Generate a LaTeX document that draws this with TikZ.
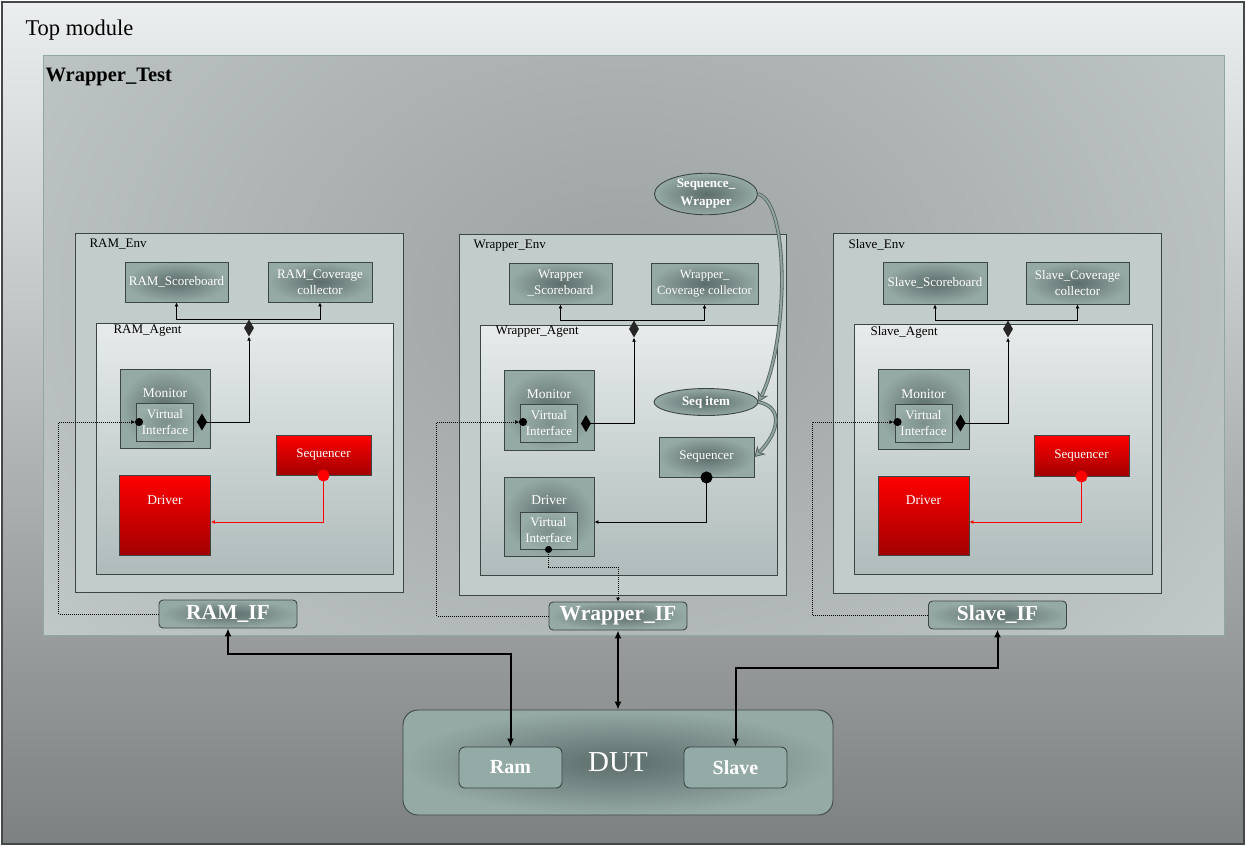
\documentclass[tikz,border=0pt]{standalone}
\usepackage{fontspec}
\setmainfont{Liberation Serif}
\usetikzlibrary{arrows.meta,shapes.geometric}
\definecolor{edge}{HTML}{3C4645}
\definecolor{frame}{HTML}{454848}
\definecolor{boxin}{HTML}{5C6D6B}
\definecolor{boxout}{HTML}{95A9A5}
\definecolor{vifin}{HTML}{7D908D}
\definecolor{vifout}{HTML}{98ACA8}
\definecolor{envc}{HTML}{C1CCCB}
\definecolor{agtop}{HTML}{E7EBEB}
\definecolor{agbot}{HTML}{AFBCBB}
\definecolor{bgtop}{HTML}{EAEEEE}
\definecolor{bgmid}{HTML}{BFC3C3}
\definecolor{bgbot}{HTML}{7E8181}
\definecolor{wtin}{HTML}{9CA1A1}
\definecolor{wtout}{HTML}{D8E0E0}
\definecolor{wtedge}{HTML}{8FA8A3}
\definecolor{modc}{HTML}{94AAA6}
\definecolor{hotbot}{HTML}{A20000}
\definecolor{curvd}{HTML}{56625F}
\definecolor{curvl}{HTML}{8FA3A0}

\begin{document}
\begin{tikzpicture}[x=1pt,y=-1pt,>=Latex,
 every node/.style={font=\fontsize{13}{16}\selectfont},
 blk/.style={draw=edge,line width=0.9pt,shading=radial,inner color=boxin,outer color=boxout,text=white,align=center,inner sep=1pt},
 hot/.style={draw=edge,line width=0.9pt,top color=red,bottom color=hotbot,minimum width=91pt},
 vif/.style={draw=edge,line width=0.9pt,shading=radial,inner color=vifin,outer color=vifout,text=white,align=center,minimum width=57pt,minimum height=38pt,inner sep=0pt},
 ifbox/.style={blk,rounded corners=4pt,minimum width=138pt,minimum height=28pt,font=\fontsize{21.5}{23}\selectfont\bfseries},
 oval/.style={blk,ellipse,font=\fontsize{13}{18}\selectfont\bfseries,inner sep=0pt},
 mod/.style={draw=edge,line width=0.9pt,fill=modc,rounded corners=6pt,text=white,minimum width=103pt,minimum height=41pt,font=\fontsize{20}{22}\selectfont\bfseries},
 dia/.style={diamond,fill=black!85,minimum width=10pt,minimum height=17pt,inner sep=0pt},
 lab/.style={anchor=west},
 wt/.style={text=white,font=\fontsize{13.5}{16}\selectfont},
 env/.style={draw=edge,line width=0.9pt,fill=envc},
 agent/.style={draw=edge,line width=0.9pt,top color=agtop,bottom color=agbot},
 link/.style={line width=1pt,arrows={-Latex[length=4pt,width=4pt]}},
 aggr/.style={line width=1pt,arrows={Diamond[length=10pt,width=17pt]-Latex[length=4pt,width=4pt]},shorten <=3pt},
 vlink/.style={densely dotted,line width=1pt,arrows={-{Latex[length=4pt,width=4pt] Circle[length=8pt]}},shorten >=-7pt},
 seqlink/.style={line width=1pt,arrows={Circle[length=12pt]-Latex[length=4pt,width=4pt]},shorten <=-6pt},
 bus/.style={line width=2pt,arrows={Latex[length=8pt,width=7pt]-Latex[length=8pt,width=7pt]}},
 curv/.style={draw=curvd,double=curvl,double distance=2pt,line width=0.8pt,arrows={-{Stealth[length=10pt,width=12pt,fill=curvl]}}}]
\useasboundingbox (0,0) rectangle (1246,846);

% frames
\shadedraw[top color=bgtop,middle color=bgmid,bottom color=bgbot,draw=frame,line width=2pt] (2,2) rectangle (1244,844);
\node[lab,font=\fontsize{22.5}{25}\selectfont] (top) at (22,30) {Top module};
\begin{scope}
\clip (43,55) rectangle (1224,635);
\shade[inner color=wtin,outer color=wtout] (620,300) ellipse [x radius=1200pt,y radius=900pt];
\end{scope}
\draw[draw=wtedge,line width=0.8pt] (43,55) rectangle (1224,635);
\node[lab,font=\fontsize{20.5}{23}\selectfont\bfseries] (wt) at (42,77) {Wrapper\_Test};

% RAM side
\draw[env] (75,233) rectangle (403,592);
\draw[agent] (96,323) rectangle (393,574);
\node[lab] (e1) at (86,244) {RAM\_Env};
\node[lab] (a1) at (110,331) {RAM\_Agent};
\node[blk,minimum width=103pt,minimum height=40pt] (s1) at (176.5,282) {RAM\_Scoreboard};
\node[blk,minimum width=104pt,minimum height=40pt] (c1) at (320,282) {RAM\_Coverage\\collector};
\node[blk,minimum width=90pt,minimum height=79pt] (m1) at (165,408.5) {};
\node[wt] (m1t) at (165,393) {Monitor};
\node[vif] (v1) at (165,422) {Virtual\\Interface};
\node[hot,minimum height=80pt] (r1) at (165,515) {};
\node[wt] (r1t) at (165,500) {Driver};
\node[hot,minimum width=95pt,minimum height=40pt,text=white] (q1) at (323.5,455) {Sequencer};
\node[dia] (d1) at (249,328) {};
\node[ifbox] (i1) at (228,614) {RAM\_IF};

% Wrapper side
\draw[env] (459,234) rectangle (786,595);
\draw[agent] (480,325) rectangle (777,575);
\node[lab] (e2) at (470,246) {Wrapper\_Env};
\node[lab] (a2) at (492,332) {Wrapper\_Agent};
\node[blk,minimum width=103pt,minimum height=41pt] (s2) at (560.5,283.5) {Wrapper\\\_Scoreboard};
\node[blk,minimum width=107pt,minimum height=41pt,font=\fontsize{12.5}{16}\selectfont] (c2) at (704.5,283.5) {Wrapper\_\\Coverage collector};
\node[blk,minimum width=90pt,minimum height=80pt] (m2) at (549,410) {};
\node[wt] (m2t) at (549,394) {Monitor};
\node[vif] (v2) at (549,423.5) {Virtual\\Interface};
\node[blk,minimum width=90pt,minimum height=79pt] (r2) at (549,516.5) {};
\node[wt] (r2t) at (549,500) {Driver};
\node[vif,minimum height=37pt] (w2) at (548.5,530.5) {Virtual\\Interface};
\node[blk,minimum width=95pt,minimum height=40pt] (q2) at (706.5,457) {Sequencer};
\node[dia] (d2) at (634,329) {};
\node[ifbox] (i2) at (618,616) {Wrapper\_IF};
\node[oval,minimum width=104pt,minimum height=27pt] (si) at (706,402) {Seq item};
\node[oval,minimum width=103pt,minimum height=38pt,align=center] (sw) at (706,194) {Sequence\_\\Wrapper};

% Slave side
\draw[env] (833,233) rectangle (1161,593);
\draw[agent] (854,324) rectangle (1152,574);
\node[lab] (e3) at (845,245) {Slave\_Env};
\node[lab] (a3) at (867,332) {Slave\_Agent};
\node[blk,minimum width=104pt,minimum height=42pt] (s3) at (935,283) {Slave\_Scoreboard};
\node[blk,minimum width=103pt,minimum height=42pt] (c3) at (1077.5,283) {Slave\_Coverage\\collector};
\node[blk,minimum width=91pt,minimum height=80pt] (m3) at (923.5,409) {};
\node[wt] (m3t) at (923.5,394) {Monitor};
\node[vif] (v3) at (923.5,423) {Virtual\\Interface};
\node[hot,minimum height=79pt] (r3) at (923.5,515.5) {};
\node[wt] (r3t) at (923.5,500) {Driver};
\node[hot,minimum width=95pt,minimum height=41pt,text=white] (q3) at (1081.5,455.5) {Sequencer};
\node[dia] (d3) at (1008,329) {};
\node[ifbox] (i3) at (997.5,615) {Slave\_IF};

% DUT
\node[blk,rounded corners=15pt,minimum width=430pt,minimum height=105pt,font=\fontsize{29}{31}\selectfont] (dut) at (618,762.5) {DUT};
\node[mod] (ram) at (510.5,767.5) {Ram};
\node[mod] (slv) at (735.5,767.5) {Slave};

% monitor to scoreboard / coverage
\draw[aggr] (v1.east) -| (d1.south);
\draw[link] (d1.north) -| (s1.south);
\draw[link] (d1.north) -| (c1.south);
\draw[aggr] (v2.east) -| (d2.south);
\draw[link] (d2.north) -| (s2.south);
\draw[link] (d2.north) -| (c2.south);
\draw[aggr] (v3.east) -| (d3.south);
\draw[link] (d3.north) -| (s3.south);
\draw[link] (d3.north) -| (c3.south);

% sequencer to driver
\draw[seqlink,red] (q1.south) |- ([yshift=-7pt]r1.east);
\draw[seqlink] (q2.south) |- ([yshift=-5.5pt]r2.east);
\draw[seqlink,red] (q3.south) |- ([yshift=-6.5pt]r3.east);

% interfaces
\draw[vlink] (i1.west) -- ++(-100,0) |- (v1.west);
\draw[vlink] (i2.west) -- ++(-112,0) |- ([yshift=1.5pt]v2.west);
\draw[vlink] (i3.west) -- ++(-116,0) |- ([yshift=1pt]v3.west);
\draw[densely dotted,line width=1pt,arrows={{Circle[length=7pt]}-Latex[length=4pt,width=4pt]},shorten <=-3.5pt] (w2.south) -- ++(0,18) -| (i2.north);

% sequences
\draw[curv] (sw.east) .. controls +(32,8) and +(30,-60) .. (si.east);
\draw[curv] (si.east) .. controls +(25,5) and +(25,-25) .. (q2.east);

% DUT buses
\draw[bus] (i1.south) -- ++(0,26) -| (ram.north);
\draw[bus] (i2.south) -- (dut.north);
\draw[bus] (i3.south) -- ++(0,39) -| (slv.north);
\end{tikzpicture}
\end{document}
